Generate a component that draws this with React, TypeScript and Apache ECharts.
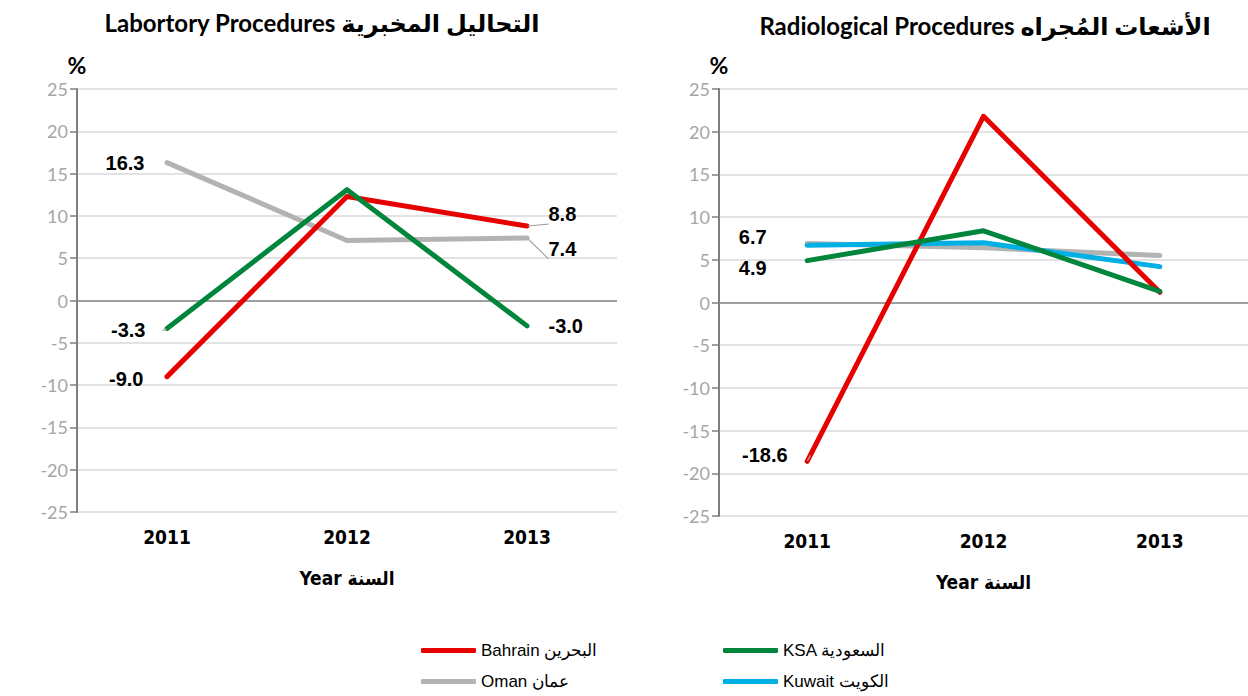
import React, { useEffect, useRef } from "react";
import * as echarts from "echarts";

const years = ["2011", "2012", "2013"];

// Laboratory procedures (%)
const labBahrain = [-9.0, 12.3, 8.8];
const labKSA = [-3.3, 13.1, -3.0];
const labOman = [16.3, 7.1, 7.4];

// Radiological procedures (%)
const radBahrain = [-18.6, 21.8, 1.2];
const radKSA = [4.9, 8.4, 1.3];
const radOman = [6.9, 6.4, 5.5];
const radKuwait = [6.7, 7.0, 4.2];

const yMin = -25;
const yMax = 25;
const yStep = 5;

const NAMES = {
  bahrain: "Bahrain البحرين",
  ksa: "KSA السعودية",
  oman: "Oman عمان",
  kuwait: "Kuwait الكويت",
};

const COLORS = {
  bahrain: "#e60000",
  ksa: "#00863c",
  oman: "#b3b3b3",
  kuwait: "#00b0e4",
};

const TITLE_FONT = "Lato, 'Open Sans', 'DejaVu Sans', sans-serif";
const NARROW_FONT = "'Liberation Sans Narrow', 'DejaVu Sans Condensed', 'Liberation Sans', sans-serif";
const LABEL_FONT = "'Liberation Sans', Arial, sans-serif";

type LabelSpec = { pos: "left" | "right"; dist: number; dy?: number; line?: boolean };

function buildData(values: number[], specs: Record<number, LabelSpec>) {
  return values.map((v, i) => {
    const s = specs[i];
    if (!s) return { value: v };
    return {
      value: v,
      label: {
        show: true,
        position: s.pos,
        distance: s.dist,
        offset: [0, s.dy || 0],
      },
      labelLine: s.line
        ? { show: true, lineStyle: { color: "#a6a6a6", width: 1.2 } }
        : { show: false },
    };
  });
}

function lineSeries(
  key: keyof typeof NAMES,
  values: number[],
  idx: number,
  specs: Record<number, LabelSpec>
) {
  return {
    type: "line",
    name: NAMES[key],
    xAxisIndex: idx,
    yAxisIndex: idx,
    data: buildData(values, specs),
    symbol: "circle",
    symbolSize: 1,
    showSymbol: true,
    itemStyle: { color: COLORS[key] },
    lineStyle: { color: COLORS[key], width: 5, cap: "round", join: "round" },
    label: {
      show: false,
      color: "#000",
      fontFamily: LABEL_FONT,
      fontWeight: "bold",
      fontSize: 20,
      formatter: (p: any) => Number(p.value).toFixed(1),
    },
    emphasis: { disabled: true },
  };
}

function splitColors() {
  const n = Math.round((yMax - yMin) / yStep) + 1;
  const arr: string[] = [];
  for (let i = 0; i < n; i++) {
    const v = yMin + i * yStep;
    arr.push(v === 0 ? "#7f7f7f" : "#d9d9d9");
  }
  return arr;
}

function yAxis(idx: number) {
  return {
    type: "value",
    gridIndex: idx,
    min: yMin,
    max: yMax,
    interval: yStep,
    name: "%",
    nameLocation: "end",
    nameGap: 13,
    nameTextStyle: {
      color: "#000",
      fontFamily: TITLE_FONT,
      fontWeight: "bold",
      fontSize: 23,
      align: "center",
    },
    axisLine: { show: true, lineStyle: { color: "#7f7f7f", width: 2 } },
    axisTick: { show: true, length: 7, lineStyle: { color: "#7f7f7f", width: 1.5 } },
    axisLabel: {
      color: "#a6a6a6",
      fontFamily: TITLE_FONT,
      fontSize: 18,
      margin: 9,
    },
    splitLine: { show: true, lineStyle: { color: splitColors(), width: 1.5 } },
  };
}

function xAxis(idx: number) {
  return {
    type: "category",
    gridIndex: idx,
    data: years,
    boundaryGap: true,
    position: "bottom",
    axisLine: { show: false, onZero: false },
    axisTick: { show: false },
    axisLabel: {
      color: "#000",
      fontFamily: NARROW_FONT,
      fontWeight: "bold",
      fontSize: 19,
      margin: 15,
    },
    splitLine: { show: false },
    name: "Year السنة",
    nameLocation: "middle",
    nameGap: 56,
    nameTextStyle: {
      color: "#000",
      fontFamily: NARROW_FONT,
      fontWeight: "bold",
      fontSize: 19,
    },
  };
}

function legend(key: keyof typeof NAMES, left: number, top: number) {
  return {
    data: [NAMES[key]],
    left,
    top,
    padding: 0,
    icon: "roundRect",
    itemWidth: 55,
    itemHeight: 5,
    selectedMode: false,
    textStyle: { color: "#000", fontFamily: LABEL_FONT, fontSize: 17 },
  };
}

export default function App() {
  const ref = useRef<HTMLDivElement>(null);

  useEffect(() => {
    if (!ref.current) return;
    const chart = echarts.init(ref.current, undefined, { renderer: "svg" });

    const option: any = {
      animation: false,
      backgroundColor: "#ffffff",
      grid: [
        { left: 77, top: 89, width: 540, height: 423 },
        { left: 719, top: 89, width: 540, height: 427 },
      ],
      xAxis: [xAxis(0), xAxis(1)],
      yAxis: [yAxis(0), yAxis(1)],
      legend: [
        legend("bahrain", 421, 642),
        legend("ksa", 723, 642),
        legend("oman", 421, 673),
        legend("kuwait", 723, 673),
      ],
      graphic: [
        {
          type: "text",
          x: 322,
          y: 22,
          style: {
            text: "Labortory Procedures التحاليل المخبرية",
            font: `bold 24px ${TITLE_FONT}`,
            fill: "#000",
            textAlign: "center",
            textVerticalAlign: "middle",
          },
        },
        {
          type: "text",
          x: 985,
          y: 25,
          style: {
            text: "Radiological Procedures الأشعات المُجراه",
            font: `bold 24px ${TITLE_FONT}`,
            fill: "#000",
            textAlign: "center",
            textVerticalAlign: "middle",
          },
        },
      ],
      series: [
        lineSeries("oman", labOman, 0, {
          0: { pos: "left", dist: 22 },
          2: { pos: "right", dist: 21, dy: 11, line: true },
        }),
        lineSeries("bahrain", labBahrain, 0, {
          0: { pos: "left", dist: 23, dy: 2 },
          2: { pos: "right", dist: 21, dy: -12, line: true },
        }),
        lineSeries("ksa", labKSA, 0, {
          0: { pos: "left", dist: 21, dy: 2, line: true },
          2: { pos: "right", dist: 21 },
        }),
        lineSeries("oman", radOman, 1, {}),
        lineSeries("kuwait", radKuwait, 1, {
          0: { pos: "left", dist: 40, dy: -8 },
        }),
        lineSeries("bahrain", radBahrain, 1, {
          0: { pos: "left", dist: 19, dy: -6, line: true },
        }),
        lineSeries("ksa", radKSA, 1, {
          0: { pos: "left", dist: 40, dy: 7 },
        }),
      ],
    };

    chart.setOption(option);
    return () => {
      chart.dispose();
    };
  }, []);

  return (
    <div
      ref={ref}
      style={{ position: "absolute", left: 0, top: 0, width: 1248, height: 696 }}
    />
  );
}
